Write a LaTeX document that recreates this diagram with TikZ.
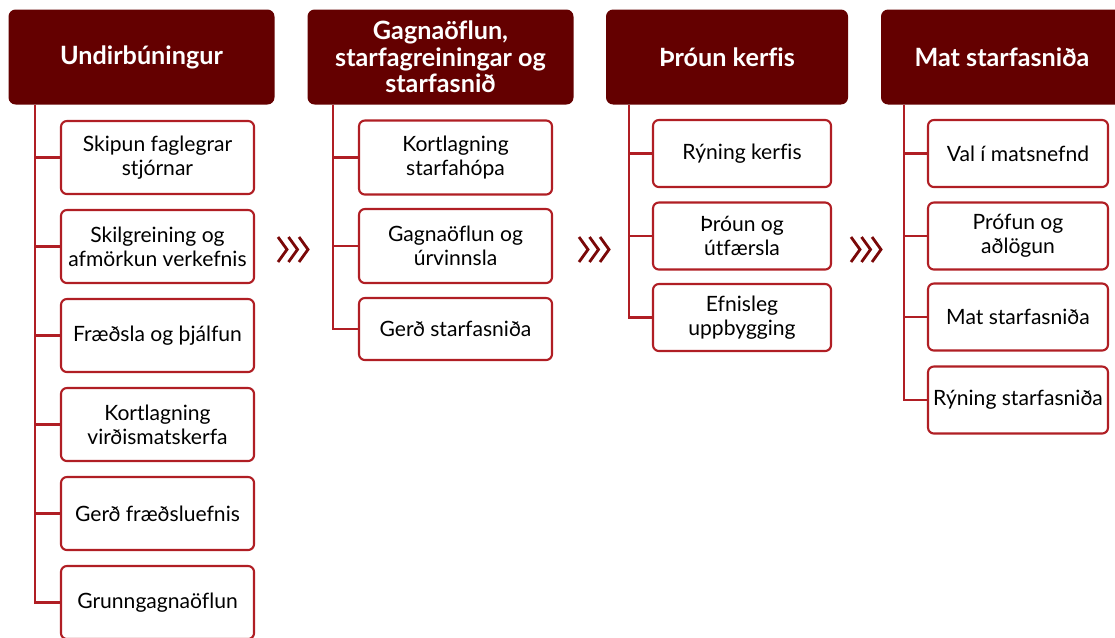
\documentclass[tikz,border=0pt]{standalone}
\usepackage{fontspec}
\setmainfont{Lato}[Ligatures=NoCommon]
\usetikzlibrary{positioning}

\definecolor{phasered}{RGB}{100,0,0}
\definecolor{taskred}{RGB}{176,30,36}
\definecolor{chevred}{RGB}{122,8,8}

\begin{document}
\begin{tikzpicture}[x=0.03cm,y=-0.03cm]

  \tikzstyle{phase} = [fill=phasered, text=white, rectangle, rounded corners=6pt, minimum height=95*0.03cm, font=\fontsize{21.5}{22.6}\selectfont\bfseries, align=center, inner sep=2pt]
  \tikzstyle{task} = [draw=taskred, fill=white, rectangle, rounded corners=5pt, line width=1.8pt, font=\fontsize{18}{20.5}\selectfont, align=center, inner sep=2pt]
  \tikzstyle{link} = [draw=taskred, line width=1.8pt]
  \tikzstyle{chev} = [draw=chevred, line width=2.4pt]

  \clip (0,0) rectangle (1115,637);
  \useasboundingbox (0,0) rectangle (1115,637);

  % phase headers
  \node[phase, minimum width=266*0.03cm] (prep) at (141.5,57) {Undirbúningur};
  \node[phase, minimum width=266*0.03cm] (data) at (440.5,57) {Gagnaöflun,\\starfagreiningar og\\starfasnið};
  \node[phase, minimum width=242*0.03cm] (dev)  at (727,57) {Þróun kerfis};
  \node[phase, minimum width=242*0.03cm] (eval) at (1002,57) {Mat starfasniða};

  % first column
  \node[task, minimum width=193*0.03cm, minimum height=73*0.03cm] (prepA) at (157.5,157.5) {Skipun faglegrar\\stjórnar};
  \node[task, minimum width=193*0.03cm, minimum height=73*0.03cm] (prepB) at (157.5,246.5) {Skilgreining og\\afmörkun verkefnis};
  \node[task, minimum width=193*0.03cm, minimum height=73*0.03cm] (prepC) at (157.5,335.5) {Fræðsla og þjálfun};
  \node[task, minimum width=193*0.03cm, minimum height=73*0.03cm] (prepD) at (157.5,424.5) {Kortlagning\\virðismatskerfa};
  \node[task, minimum width=193*0.03cm, minimum height=73*0.03cm] (prepE) at (157.5,513.5) {Gerð fræðsluefnis};
  \node[task, minimum width=193*0.03cm, minimum height=73*0.03cm] (prepF) at (157.5,602.5) {Grunngagnaöflun};

  % second column
  \node[task, minimum width=193*0.03cm, minimum height=74*0.03cm] (dataA) at (455.5,157.5) {Kortlagning\\starfahópa};
  \node[task, minimum width=193*0.03cm, minimum height=74*0.03cm] (dataB) at (455.5,246) {Gagnaöflun og\\úrvinnsla};
  \node[task, minimum width=193*0.03cm, minimum height=62*0.03cm] (dataC) at (455.5,329) {Gerð starfasniða};

  % third column
  \node[task, minimum width=178*0.03cm, minimum height=67*0.03cm] (devA) at (742,153.5) {Rýning kerfis};
  \node[task, minimum width=178*0.03cm, minimum height=67*0.03cm] (devB) at (742,236) {Þróun og\\útfærsla};
  \node[task, minimum width=178*0.03cm, minimum height=67*0.03cm] (devC) at (742,317.5) {Efnisleg\\uppbygging};

  % fourth column
  \node[task, minimum width=180*0.03cm, minimum height=67*0.03cm] (evalA) at (1018,153.5) {Val í matsnefnd};
  \node[task, minimum width=180*0.03cm, minimum height=67*0.03cm] (evalB) at (1018,236) {Prófun og\\aðlögun};
  \node[task, minimum width=180*0.03cm, minimum height=67*0.03cm] (evalC) at (1018,317) {Mat starfasniða};
  \node[task, minimum width=180*0.03cm, minimum height=67*0.03cm] (evalD) at (1018,400) {Rýning starfasniða};

  % trunks
  \coordinate (prepT) at (35,0);
  \coordinate (dataT) at (333,0);
  \coordinate (devT)  at (629,0);
  \coordinate (evalT) at (904,0);

  \draw[link] (prep.south -| prepT) |- (prepF.west);
  \draw[link] (prepT |- prepA) -- (prepA.west);
  \draw[link] (prepT |- prepB) -- (prepB.west);
  \draw[link] (prepT |- prepC) -- (prepC.west);
  \draw[link] (prepT |- prepD) -- (prepD.west);
  \draw[link] (prepT |- prepE) -- (prepE.west);

  \draw[link] (data.south -| dataT) |- (dataC.west);
  \draw[link] (dataT |- dataA) -- (dataA.west);
  \draw[link] (dataT |- dataB) -- (dataB.west);

  \draw[link] (dev.south -| devT) |- (devC.west);
  \draw[link] (devT |- devA) -- (devA.west);
  \draw[link] (devT |- devB) -- (devB.west);

  \draw[link] (eval.south -| evalT) |- (evalD.west);
  \draw[link] (evalT |- evalA) -- (evalA.west);
  \draw[link] (evalT |- evalB) -- (evalB.west);
  \draw[link] (evalT |- evalC) -- (evalC.west);

  % chevrons between phases
  \foreach \x in {278,579,851}
    \foreach \k in {0,10.5,21}
      \draw[chev] (\x+\k,237) -- (\x+\k+9,249.5) -- (\x+\k,262);

\end{tikzpicture}
\end{document}
